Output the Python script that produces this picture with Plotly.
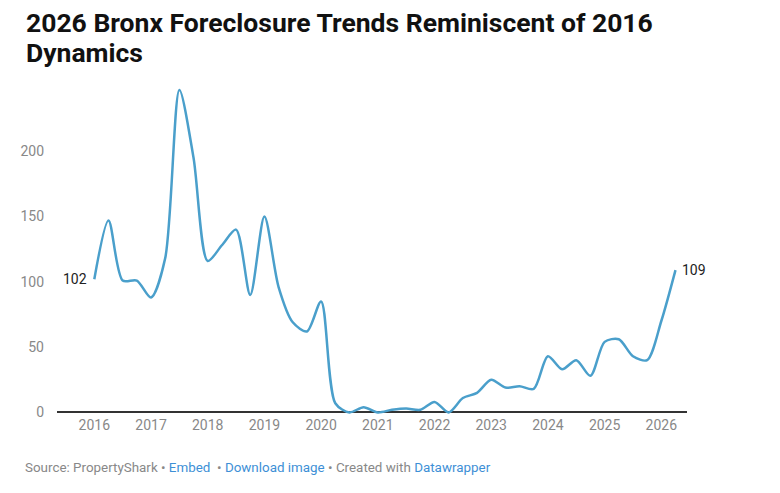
import plotly.graph_objects as go

# quarterly foreclosure counts, Q1 2016 .. Q2 2026
quarters = [2016 + i / 4 for i in range(42)]
values = [
    102, 147, 101, 101, 88, 118, 247, 195, 116, 128, 140, 90,
    150, 96, 69, 62, 85, 7, 0, 4, 0, 2, 3, 2,
    8, 0, 11, 15, 25, 19, 20, 18, 43, 33, 40, 28,
    54, 56, 43, 40, 70, 109,
]
year_ticks = list(range(2016, 2027))
y_ticks = [0, 50, 100, 150, 200]
title_lines = ["2026 Bronx Foreclosure Trends Reminiscent of 2016", "Dynamics"]

line_color = "#4a9fcb"
grey = "#888888"
link = "#3d8fd6"

fig = go.Figure()
fig.add_trace(go.Scatter(
    x=quarters,
    y=values,
    mode="lines",
    line=dict(color=line_color, width=2.5, shape="spline", smoothing=0.8),
    hoverinfo="x+y",
    showlegend=False,
))

# end labels
fig.add_annotation(x=quarters[0], y=values[0], text=str(values[0]),
                   xanchor="right", yanchor="middle", xshift=-5, showarrow=False,
                   font=dict(family="Roboto", size=14, color="#222222"))
fig.add_annotation(x=quarters[-1], y=values[-1], text=str(values[-1]),
                   xanchor="left", yanchor="middle", xshift=5, showarrow=False,
                   font=dict(family="Roboto", size=14, color="#222222"))

# title, one annotation per line to keep the tight line spacing
for txt, ty in zip(title_lines, [1.1936, 1.1024]):
    fig.add_annotation(xref="paper", yref="paper", x=-0.052, y=ty,
                       xanchor="left", yanchor="middle", showarrow=False,
                       text=f"<b>{txt}</b>",
                       font=dict(family="Roboto", size=26.5, color="#111111"))

footer = (
    f"<span style='color:{grey}'>Source: PropertyShark • </span>"
    f"<span style='color:{link}'>Embed</span>"
    f"<span style='color:{grey}'>  • </span>"
    f"<span style='color:{link}'>Download image</span>"
    f"<span style='color:{grey}'> • Created with </span>"
    f"<span style='color:{link}'>Datawrapper</span>"
)
fig.add_annotation(xref="paper", yref="paper", x=-0.054, y=-0.160,
                   xanchor="left", yanchor="middle", text=footer, showarrow=False,
                   font=dict(family="Roboto", size=13.4, color=grey))

# page body has an 8px margin, so the figure is a bit smaller and offset
fig.update_layout(
    width=764,
    height=477,
    margin=dict(l=49, r=85, t=78, b=70),
    paper_bgcolor="white",
    plot_bgcolor="white",
    font=dict(family="Roboto", color=grey),
    xaxis=dict(
        range=[2015.342, 2026.453],
        tickvals=year_ticks,
        ticktext=[str(y) for y in year_ticks],
        showgrid=False,
        zeroline=False,
        showline=False,
        ticks="",
        automargin=False,
        tickfont=dict(family="Roboto", size=14, color=grey),
    ),
    yaxis=dict(
        range=[-2, 250],
        tickvals=y_ticks,
        showgrid=False,
        zeroline=True,
        zerolinecolor="#333333",
        zerolinewidth=1.5,
        showline=False,
        ticks="",
        automargin=False,
        ticklabelstandoff=12,
        tickfont=dict(family="Roboto", size=14, color=grey),
    ),
)

fig.write_html("out.html")
